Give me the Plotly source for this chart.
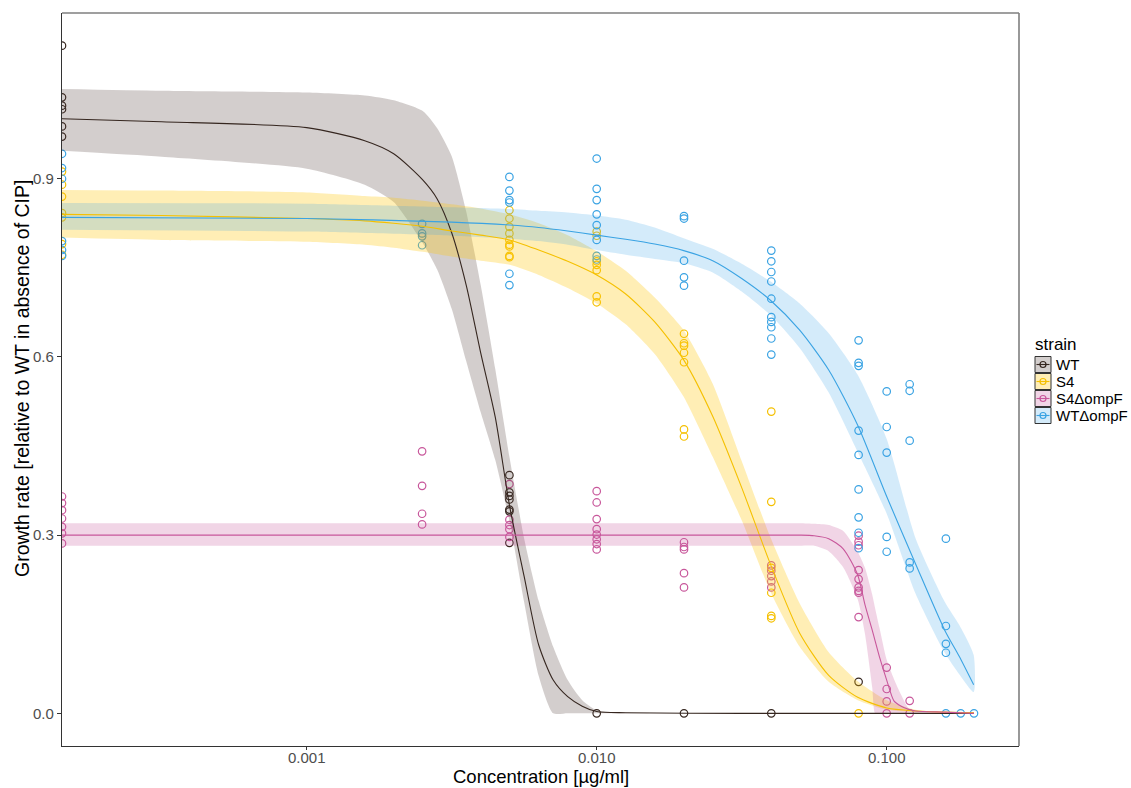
import math
import plotly.graph_objects as go

# ---------------- data ----------------
strains = ["WT", "S4", "S4ΔompF", "WTΔompF"]
line_colors = ["#35261F", "#F5C000", "#C8579B", "#3AA3E3"]
ribbon_colors = ["rgba(80,60,55,0.25)", "rgba(255,200,10,0.30)",
                 "rgba(200,87,155,0.25)", "rgba(60,165,230,0.22)"]

# observations (concentration 0 = no drug, drawn at the left panel edge)
wt_conc = [0, 0, 0, 0, 0, 0,
           0.005, 0.005, 0.005, 0.005, 0.005, 0.005, 0.005,
           0.01, 0.02, 0.04, 0.08]
wt_rate = [1.124, 1.037, 1.023, 1.017, 0.988, 0.971,
           0.401, 0.372, 0.366, 0.360, 0.343, 0.340, 0.287,
           0.0, 0.0, 0.0, 0.053]

s4_conc = [0, 0, 0, 0, 0, 0, 0,
           0.005, 0.005, 0.005, 0.005, 0.005, 0.005, 0.005, 0.005, 0.005,
           0.01, 0.01, 0.01, 0.01, 0.01, 0.01, 0.01,
           0.02, 0.02, 0.02, 0.02, 0.02, 0.02, 0.02,
           0.04, 0.04, 0.04, 0.04, 0.04, 0.04,
           0.08]
s4_rate = [0.912, 0.890, 0.870, 0.842, 0.835, 0.790, 0.772,
           0.847, 0.833, 0.819, 0.808, 0.797, 0.789, 0.786, 0.770, 0.768,
           0.811, 0.804, 0.761, 0.755, 0.746, 0.702, 0.692,
           0.639, 0.623, 0.619, 0.607, 0.591, 0.478, 0.466,
           0.508, 0.356, 0.245, 0.203, 0.164, 0.160,
           0.0]

s4d_conc = [0, 0, 0, 0, 0, 0, 0,
            0.0025, 0.0025, 0.0025, 0.0025,
            0.005, 0.005, 0.005, 0.005, 0.005,
            0.01, 0.01, 0.01, 0.01, 0.01, 0.01, 0.01, 0.01,
            0.02, 0.02, 0.02, 0.02, 0.02,
            0.04, 0.04, 0.04, 0.04, 0.04,
            0.08, 0.08, 0.08, 0.08, 0.08, 0.08, 0.08, 0.08, 0.08,
            0.1, 0.1, 0.1, 0.1,
            0.12, 0.12]
s4d_rate = [0.365, 0.354, 0.342, 0.328, 0.314, 0.303, 0.286,
            0.441, 0.383, 0.336, 0.318,
            0.386, 0.326, 0.317, 0.310, 0.297,
            0.374, 0.355, 0.327, 0.310, 0.301, 0.293, 0.285, 0.276,
            0.288, 0.280, 0.276, 0.236, 0.212,
            0.249, 0.240, 0.231, 0.222, 0.212,
            0.299, 0.289, 0.283, 0.241, 0.226, 0.212, 0.206, 0.203, 0.162,
            0.077, 0.041, 0.020, 0.0,
            0.021, 0.0]

wtd_conc = [0, 0, 0, 0, 0, 0,
            0.0025, 0.0025, 0.0025, 0.0025,
            0.005, 0.005, 0.005, 0.005, 0.005, 0.005,
            0.01, 0.01, 0.01, 0.01, 0.01, 0.01, 0.01, 0.01,
            0.02, 0.02, 0.02, 0.02, 0.02,
            0.04, 0.04, 0.04, 0.04, 0.04, 0.04, 0.04, 0.04, 0.04, 0.04,
            0.08, 0.08, 0.08, 0.08, 0.08, 0.08, 0.08, 0.08, 0.08,
            0.1, 0.1, 0.1, 0.1, 0.1,
            0.12, 0.12, 0.12, 0.12, 0.12,
            0.16, 0.16, 0.16, 0.16, 0.16,
            0.18, 0.2]
wtd_rate = [0.942, 0.918, 0.900, 0.795, 0.780, 0.770,
            0.824, 0.808, 0.803, 0.788,
            0.903, 0.880, 0.864, 0.860, 0.740, 0.721,
            0.934, 0.883, 0.864, 0.840, 0.822, 0.797, 0.770, 0.764,
            0.837, 0.833, 0.762, 0.734, 0.720,
            0.779, 0.761, 0.743, 0.727, 0.698, 0.667, 0.659, 0.650, 0.631, 0.604,
            0.628, 0.590, 0.585, 0.476, 0.435, 0.377, 0.330, 0.304, 0.278,
            0.542, 0.482, 0.439, 0.297, 0.272,
            0.554, 0.543, 0.459, 0.254, 0.244,
            0.294, 0.147, 0.117, 0.102, 0.0,
            0.0, 0.0]

# fitted dose-response curves: concentration, fit, upper, lower
wt_c = [1.43e-4, 3.16e-4, 1.0e-3, 1.585e-3, 1.995e-3, 2.512e-3, 2.818e-3, 3.162e-3,
        3.548e-3, 3.981e-3, 4.467e-3, 5.012e-3, 5.623e-3, 6.310e-3, 7.079e-3,
        7.943e-3, 8.913e-3, 0.01, 0.01259, 0.03162, 0.1, 0.2]
wt_fit = [1.001, 0.996, 0.986, 0.964, 0.942, 0.898, 0.866, 0.809, 0.721, 0.607, 0.499,
          0.348, 0.230, 0.115, 0.056, 0.028, 0.012, 0.003, 0.001, 0.0, 0.0, 0.0]
wt_hi = [1.051, 1.048, 1.045, 1.040, 1.032, 1.014, 0.985, 0.938, 0.845, 0.721, 0.580,
         0.429, 0.294, 0.189, 0.112, 0.056, 0.022, 0.005, 0.001, 0.0, 0.0, 0.0]
wt_lo = [0.947, 0.937, 0.917, 0.890, 0.861, 0.792, 0.747, 0.681, 0.593, 0.507, 0.427,
         0.322, 0.187, 0.063, 0.0, 0.0, 0.0, 0.0, 0.0, 0.0, 0.0, 0.0]

s4_c = [1.43e-4, 3.16e-4, 1.0e-3, 1.585e-3, 1.995e-3, 2.512e-3, 3.162e-3, 3.981e-3,
        5.012e-3, 6.310e-3, 7.943e-3, 0.01, 0.01259, 0.01585, 0.01995, 0.02512,
        0.03162, 0.03981, 0.05012, 0.0631, 0.07943, 0.1, 0.1259, 0.1585, 0.2]
s4_fit = [0.840, 0.838, 0.833, 0.829, 0.825, 0.820, 0.812, 0.805, 0.797, 0.780, 0.761,
          0.738, 0.706, 0.659, 0.595, 0.500, 0.380, 0.250, 0.135, 0.064, 0.027, 0.009,
          0.004, 0.002, 0.001]
s4_hi = [0.881, 0.880, 0.877, 0.871, 0.868, 0.863, 0.857, 0.850, 0.840, 0.825, 0.805,
         0.778, 0.745, 0.700, 0.645, 0.555, 0.425, 0.295, 0.185, 0.103, 0.054, 0.022,
         0.006, 0.002, 0.001]
s4_lo = [0.801, 0.797, 0.794, 0.789, 0.784, 0.777, 0.769, 0.762, 0.755, 0.738, 0.716,
         0.690, 0.655, 0.605, 0.533, 0.432, 0.325, 0.204, 0.112, 0.053, 0.022, 0.006,
         0.002, 0.001, 0.0]

s4d_c = [1.43e-4, 1.0e-3, 0.01, 0.03162, 0.05012, 0.05623, 0.0631, 0.07079, 0.07943,
         0.08414, 0.08913, 0.0912, 0.09441, 0.1, 0.1059, 0.1122, 0.1189, 0.1259,
         0.1585, 0.2]
s4d_fit = [0.300, 0.300, 0.300, 0.300, 0.300, 0.299, 0.294, 0.277, 0.233, 0.183, 0.140,
           0.122, 0.095, 0.056, 0.021, 0.012, 0.007, 0.004, 0.002, 0.0]
s4d_hi = [0.320, 0.320, 0.320, 0.320, 0.320, 0.319, 0.317, 0.307, 0.272, 0.245, 0.200,
          0.177, 0.144, 0.090, 0.058, 0.031, 0.009, 0.004, 0.001, 0.0]
s4d_lo = [0.282, 0.282, 0.282, 0.282, 0.282, 0.282, 0.273, 0.246, 0.192, 0.134, 0.044,
          0.0, 0.0, 0.0, 0.0, 0.0, 0.0, 0.0, 0.0, 0.0]

wtd_c = [1.43e-4, 1.0e-3, 3.162e-3, 5.012e-3, 6.310e-3, 7.943e-3, 0.01, 0.01259,
         0.01585, 0.01995, 0.02512, 0.03162, 0.03981, 0.05012, 0.0631, 0.07943, 0.1,
         0.1259, 0.1585, 0.1778, 0.1995]
wtd_fit = [0.835, 0.833, 0.827, 0.822, 0.818, 0.812, 0.805, 0.798, 0.790, 0.779, 0.762,
           0.732, 0.695, 0.645, 0.578, 0.485, 0.365, 0.251, 0.140, 0.096, 0.048]
wtd_hi = [0.859, 0.858, 0.852, 0.849, 0.846, 0.843, 0.838, 0.831, 0.818, 0.800, 0.782,
          0.757, 0.727, 0.690, 0.640, 0.570, 0.462, 0.294, 0.188, 0.149, 0.098]
wtd_lo = [0.814, 0.811, 0.804, 0.799, 0.795, 0.789, 0.780, 0.772, 0.765, 0.758, 0.742,
          0.710, 0.670, 0.615, 0.540, 0.440, 0.336, 0.201, 0.102, 0.066, 0.036]

x_ticks = [0.001, 0.01, 0.1]
x_ticklabels = ["0.001", "0.010", "0.100"]
y_ticks = [0.0, 0.3, 0.6, 0.9]
y_ticklabels = ["0.0", "0.3", "0.6", "0.9"]

# ---------------- layout constants ----------------
W, H = 1131, 788
PL, PR, PT, PB = 62, 1019, 13, 746          # panel edges in pixels
XLOG_RANGE = [-3.8438, -0.5438]
Y_RANGE = [-0.055, 1.179]
X_EDGE = 10 ** XLOG_RANGE[0]
FONT = "Liberation Sans, Arial, sans-serif"


def pxx(px):
    return (px - PL) / (PR - PL)


def pxy(py):
    return (PB - py) / (PB - PT)


obs = [(wt_conc, wt_rate), (s4_conc, s4_rate), (s4d_conc, s4d_rate), (wtd_conc, wtd_rate)]
curves = [(wt_c, wt_fit, wt_hi, wt_lo), (s4_c, s4_fit, s4_hi, s4_lo),
          (s4d_c, s4d_fit, s4d_hi, s4d_lo), (wtd_c, wtd_fit, wtd_hi, wtd_lo)]

fig = go.Figure()

# points (drawn first, under the ribbons)
for (cx, cy), col, name in zip(obs, line_colors, strains):
    xs = [c if c > 0 else X_EDGE for c in cx]
    fig.add_trace(go.Scatter(
        x=xs, y=cy, mode="markers", name=name, showlegend=False,
        marker=dict(symbol="circle-open", size=7.5, color=col, line=dict(width=1.2, color=col)),
        cliponaxis=True))

# confidence ribbons
for (c, fit, hi, lo), rcol, name in zip(curves, ribbon_colors, strains):
    fig.add_trace(go.Scatter(
        x=list(c) + list(c)[::-1], y=list(hi) + list(lo)[::-1],
        mode="lines", fill="toself", fillcolor=rcol,
        line=dict(width=0, shape="spline", smoothing=0.6),
        showlegend=False, hoverinfo="skip"))

# fitted lines
for (c, fit, hi, lo), col, name in zip(curves, line_colors, strains):
    fig.add_trace(go.Scatter(
        x=c, y=fit, mode="lines", name=name, showlegend=False,
        line=dict(color=col, width=1.1, shape="spline", smoothing=0.7)))

shapes = [
    # top and right panel border (grey)
    dict(type="line", xref="paper", yref="paper", x0=0, x1=1, y0=1, y1=1,
         line=dict(color="#7f7f7f", width=1.6), layer="above"),
    dict(type="line", xref="paper", yref="paper", x0=1, x1=1, y0=0, y1=1,
         line=dict(color="#7f7f7f", width=1.6), layer="above"),
]
annotations = []

# x tick labels (placed on the log axis at the tick values)
for tv, tl in zip(x_ticks, x_ticklabels):
    annotations.append(dict(text=tl, xref="x", yref="paper", x=math.log10(tv), y=pxy(757),
                            xanchor="center", yanchor="middle", showarrow=False,
                            font=dict(family=FONT, size=15, color="#4d4d4d")))

# manual legend
annotations.append(dict(text="strain", xref="paper", yref="paper", x=pxx(1033), y=pxy(345),
                        xanchor="left", yanchor="middle", showarrow=False,
                        font=dict(family=FONT, size=17, color="#000000")))
for i, (name, col, rcol) in enumerate(zip(strains, line_colors, ribbon_colors)):
    cy = 364.5 + 17.0 * i
    shapes.append(dict(type="rect", xref="paper", yref="paper",
                       x0=pxx(1035), x1=pxx(1051), y0=pxy(cy + 8), y1=pxy(cy - 8),
                       fillcolor="white", line=dict(width=0)))
    shapes.append(dict(type="rect", xref="paper", yref="paper",
                       x0=pxx(1035), x1=pxx(1051), y0=pxy(cy + 8), y1=pxy(cy - 8),
                       fillcolor=rcol, line=dict(color="#333333", width=1)))
    shapes.append(dict(type="line", xref="paper", yref="paper",
                       x0=pxx(1036.5), x1=pxx(1049.5), y0=pxy(cy), y1=pxy(cy),
                       line=dict(color=col, width=1.1)))
    shapes.append(dict(type="circle", xref="paper", yref="paper",
                       x0=pxx(1040), x1=pxx(1046), y0=pxy(cy + 3), y1=pxy(cy - 3),
                       fillcolor="rgba(0,0,0,0)", line=dict(color=col, width=1.2)))
    annotations.append(dict(text=name, xref="paper", yref="paper", x=pxx(1054), y=pxy(cy),
                            xanchor="left", yanchor="middle", showarrow=False,
                            font=dict(family=FONT, size=15, color="#000000")))

# axis titles
annotations.append(dict(text="Concentration [µg/ml]", xref="paper", yref="paper",
                        x=0.5, y=pxy(776.5), xanchor="center", yanchor="middle",
                        showarrow=False, font=dict(family=FONT, size=18.5, color="#000000")))
annotations.append(dict(text="Growth rate [relative to WT in absence of CIP]",
                        xref="paper", yref="paper", x=pxx(22), y=pxy(379),
                        xanchor="center", yanchor="middle", textangle=-90,
                        showarrow=False, font=dict(family=FONT, size=19.5, color="#000000")))

fig.update_layout(
    width=W, height=H,
    margin=dict(l=PL, r=W - PR, t=PT, b=H - PB, pad=0),
    paper_bgcolor="white", plot_bgcolor="white",
    showlegend=False,
    shapes=shapes, annotations=annotations,
    font=dict(family=FONT),
    xaxis=dict(type="log", range=XLOG_RANGE, tickvals=x_ticks, ticktext=x_ticklabels,
               showticklabels=False,
               showgrid=False, zeroline=False, showline=True, linecolor="#333333",
               linewidth=1.2, ticks="outside", ticklen=3, tickcolor="#333333"),
    yaxis=dict(range=Y_RANGE, tickvals=y_ticks, ticktext=y_ticklabels,
               showgrid=False, zeroline=False, showline=True, linecolor="#333333",
               linewidth=1.2, ticks="outside", ticklen=4, tickcolor="#333333",
               tickfont=dict(family=FONT, size=15, color="#4d4d4d")),
)

fig.write_html("out.html")
